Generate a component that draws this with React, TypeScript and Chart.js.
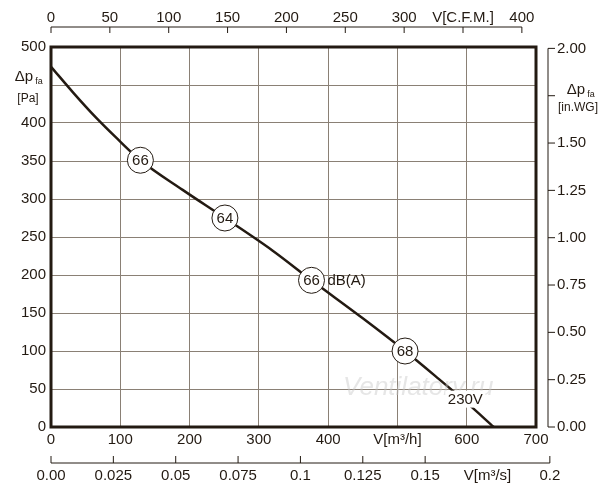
import React, { useEffect, useRef } from "react";
import { Chart, registerables } from "chart.js";
Chart.register(...registerables);

const flowM3h = [0, 32, 64, 96, 129, 190, 251, 320, 376, 450, 511, 560, 600, 639];
const pressurePa = [474, 440, 408, 379, 351, 312, 275, 232, 193, 143, 100, 63, 32, 0];
const markerFlow = [129, 251, 376, 511];
const markerPa = [351, 275, 193, 100];
const markerDb = ["66", "64", "66", "68"];
const cfmTicks = [0, 50, 100, 150, 200, 250, 300, 350, 400];
const m3sTicks = [0, 0.025, 0.05, 0.075, 0.1, 0.125, 0.15, 0.175, 0.2];
const inwgTicks = [0, 0.25, 0.5, 0.75, 1, 1.25, 1.5, 1.75, 2];
const CFM_TO_M3H = 1.699;
const INWG_TO_PA = 249.09;
const FONT = "'Liberation Sans', Arial, sans-serif";
const INK = "#231a12";

export default function App() {
  const ref = useRef<HTMLCanvasElement>(null);
  useEffect(() => {
    const overlay = {
      id: "overlay",
      afterDatasetsDraw(chart: any) {
        const ctx = chart.ctx;
        const xs = chart.scales.x, ys = chart.scales.y;
        const a = chart.chartArea;
        ctx.save();
        ctx.fillStyle = INK;
        ctx.strokeStyle = INK;
        ctx.lineWidth = 1;
        ctx.textAlign = "center";
        ctx.textBaseline = "middle";
        // watermark
        ctx.font = `italic 26px ${FONT}`;
        ctx.fillStyle = "rgba(200,200,200,0.45)";
        ctx.fillText("Ventilatory.ru", xs.getPixelForValue(530), ys.getPixelForValue(52));
        ctx.font = `15px ${FONT}`;
        // 230V label
        const lx = xs.getPixelForValue(598), ly = ys.getPixelForValue(36);
        ctx.fillStyle = "#fff";
        ctx.fillRect(lx - 20, ly - 9, 40, 17);
        ctx.fillStyle = INK;
        ctx.fillText("230V", lx, ly);
        // markers
        markerFlow.forEach((f, i) => {
          const px = xs.getPixelForValue(f), py = ys.getPixelForValue(markerPa[i]);
          ctx.beginPath();
          ctx.arc(px, py, 13, 0, Math.PI * 2);
          ctx.fillStyle = "#fff";
          ctx.fill();
          ctx.lineWidth = 1;
          ctx.stroke();
          ctx.fillStyle = INK;
          ctx.fillText(markerDb[i], px, py + 1);
          if (i === 2) {
            ctx.textAlign = "left";
            ctx.fillText("dB(A)", px + 16, py + 1);
            ctx.textAlign = "center";
          }
        });
        // border
        ctx.lineWidth = 3;
        ctx.strokeRect(a.left, a.top, a.right - a.left, a.bottom - a.top);
        ctx.lineWidth = 1;
        // top CFM axis
        const topY = a.top - 20;
        ctx.beginPath();
        ctx.moveTo(xs.getPixelForValue(0), topY);
        ctx.lineTo(xs.getPixelForValue(400 * CFM_TO_M3H), topY);
        ctx.stroke();
        ctx.textBaseline = "bottom";
        cfmTicks.forEach((c) => {
          const px = xs.getPixelForValue(c * CFM_TO_M3H);
          ctx.beginPath();
          ctx.moveTo(px, topY);
          ctx.lineTo(px, topY + 6);
          ctx.stroke();
          ctx.fillText(c === 350 ? "V[C.F.M.]" : String(c), px, topY - 2);
        });
        // bottom m3/s axis
        const botY = a.bottom + 36;
        ctx.beginPath();
        ctx.moveTo(xs.getPixelForValue(0), botY);
        ctx.lineTo(xs.getPixelForValue(0.2 * 3600), botY);
        ctx.stroke();
        ctx.textBaseline = "top";
        m3sTicks.forEach((v) => {
          const px = xs.getPixelForValue(v * 3600);
          if (v !== 0.175) {
            ctx.beginPath();
            ctx.moveTo(px, botY);
            ctx.lineTo(px, botY - 7);
            ctx.stroke();
          }
          const t = v === 0 ? "0.00" : v === 0.175 ? "V[m³/s]" : String(v);
          ctx.fillText(t, px, botY + 5);
        });
        // right in.WG axis
        const rx = a.right + 12;
        ctx.beginPath();
        ctx.moveTo(rx, ys.getPixelForValue(0));
        ctx.lineTo(rx, ys.getPixelForValue(2 * INWG_TO_PA));
        ctx.stroke();
        ctx.textAlign = "left";
        ctx.textBaseline = "middle";
        inwgTicks.forEach((w) => {
          const py = ys.getPixelForValue(w * INWG_TO_PA);
          ctx.beginPath();
          ctx.moveTo(rx, py);
          ctx.lineTo(rx + 7, py);
          ctx.stroke();
          if (w !== 1.75) ctx.fillText(w.toFixed(2), rx + 9, py);
        });
        // unit titles
        const rt = ys.getPixelForValue(1.75 * INWG_TO_PA);
        ctx.textAlign = "center";
        ctx.fillText("Δp", rx + 28, rt - 6);
        ctx.font = `9px ${FONT}`;
        ctx.fillText("fa", rx + 43, rt - 1);
        ctx.font = `12px ${FONT}`;
        ctx.fillText("[in.WG]", rx + 30, rt + 12);
        const lt = ys.getPixelForValue(450);
        ctx.font = `15px ${FONT}`;
        ctx.fillText("Δp", 24, lt - 8);
        ctx.font = `9px ${FONT}`;
        ctx.fillText("fa", 39, lt - 3);
        ctx.font = `12px ${FONT}`;
        ctx.fillText("[Pa]", 28, lt + 14);
        ctx.restore();
      },
    };
    const chart = new Chart(ref.current!, {
      type: "line",
      data: {
        datasets: [
          {
            data: flowM3h.map((f, i) => ({ x: f, y: pressurePa[i] })),
            borderColor: INK,
            borderWidth: 2.5,
            pointRadius: 0,
            cubicInterpolationMode: "monotone",
          },
        ],
      },
      options: {
        animation: false,
        responsive: false,
        layout: { padding: { left: 0, right: 64, top: 47, bottom: 52 } },
        plugins: { legend: { display: false }, tooltip: { enabled: false } },
        scales: {
          x: {
            type: "linear",
            min: 0,
            max: 700,
            afterFit: (s: any) => { s.height = 21; },
            grid: { color: "#8a8075", drawTicks: false },
            border: { display: false },
            ticks: {
              stepSize: 100,
              padding: 4,
              color: INK,
              font: { family: FONT, size: 15 },
              callback: (v: any) => (v === 500 ? "V[m³/h]" : String(v)),
            },
          },
          y: {
            min: 0,
            max: 500,
            afterFit: (s: any) => { s.width = 51; },
            grid: { color: "#8a8075", drawTicks: false },
            border: { display: false },
            ticks: {
              stepSize: 50,
              padding: 5,
              color: INK,
              font: { family: FONT, size: 15 },
              callback: (v: any) => (v === 450 ? "" : String(v)),
            },
          },
        },
      },
      plugins: [overlay],
    } as any);
    return () => chart.destroy();
  }, []);
  return (
    <div style={{ position: "fixed", left: 0, top: 0, width: 600, height: 500, background: "#fff" }}>
      <canvas ref={ref} width={600} height={500} style={{ width: 600, height: 500 }} />
    </div>
  );
}
